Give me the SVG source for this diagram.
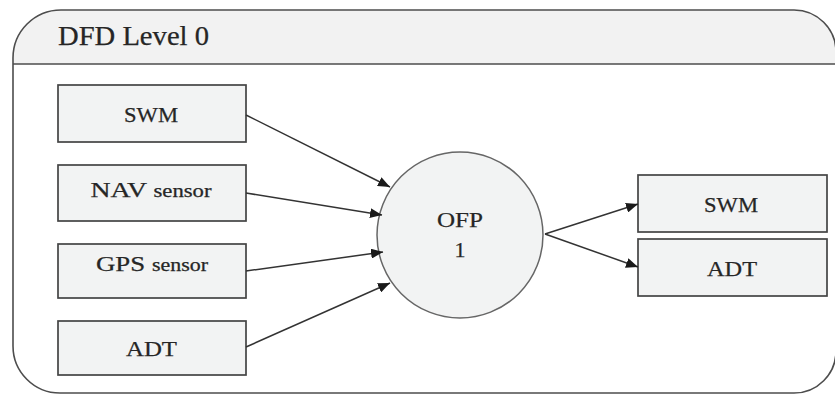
<svg xmlns="http://www.w3.org/2000/svg" width="835" height="395" viewBox="0 0 835 395">
  <style>
    .frame { fill: none; stroke: #4d4d4d; stroke-width: 1.6; }
    .header { fill: #f2f2f2; stroke: none; }
    .rule { stroke: #4d4d4d; stroke-width: 1.6; }
    .box { fill: #f2f3f3; stroke: #444444; stroke-width: 1.7; }
    .proc { fill: #f2f3f3; stroke: #666666; stroke-width: 1.5; }
    .lbl { font-family: "Liberation Serif", "DejaVu Serif", serif; font-size: 22px; fill: #262626; text-anchor: middle; stroke: #262626; stroke-width: 0.25; }
    .small { font-size: 18px; }
    .title { font-family: "Liberation Serif", "DejaVu Serif", serif; font-size: 27px; fill: #262626; stroke: #262626; stroke-width: 0.25; }
    .flow { stroke: #333333; stroke-width: 1.5; fill: none; marker-end: url(#arrow); }
  </style>
  <defs>
    <marker id="arrow" markerUnits="userSpaceOnUse" markerWidth="13" markerHeight="10" refX="12" refY="5" orient="auto">
      <path d="M0,0 L12,5 L0,10 Z" fill="#1a1a1a"/>
    </marker>
  </defs>

  <!-- Level 0 frame with title band -->
  <g id="frame">
    <path class="header" d="M13,64 V58 A48,48 0 0 1 61,10 H794 A42,42 0 0 1 836,52 V64 Z"/>
    <path class="frame" d="M61,10 H794 A42,42 0 0 1 836,52 V351 A42,42 0 0 1 794,393 H60 A47,47 0 0 1 13,346 V58 A48,48 0 0 1 61,10 Z"/>
    <line class="rule" x1="13" y1="64" x2="836" y2="64"/>
    <text class="title" x="58" y="45" textLength="151" lengthAdjust="spacingAndGlyphs">DFD Level 0</text>
  </g>

  <!-- External entities, left -->
  <g id="swm-in">
    <rect class="box" x="58" y="85" width="188" height="57"/>
    <text class="lbl" x="151" y="122" textLength="54" lengthAdjust="spacingAndGlyphs">SWM</text>
  </g>
  <g id="nav-sensor">
    <rect class="box" x="58" y="165" width="188" height="56"/>
    <text class="lbl" x="151" y="197" textLength="121" lengthAdjust="spacingAndGlyphs">NAV <tspan class="small">sensor</tspan></text>
  </g>
  <g id="gps-sensor">
    <rect class="box" x="58" y="244" width="188" height="54"/>
    <text class="lbl" x="152" y="271" textLength="112" lengthAdjust="spacingAndGlyphs">GPS <tspan class="small">sensor</tspan></text>
  </g>
  <g id="adt-in">
    <rect class="box" x="58" y="321" width="188" height="54"/>
    <text class="lbl" x="151.5" y="356" textLength="51" lengthAdjust="spacingAndGlyphs">ADT</text>
  </g>

  <!-- Process -->
  <g id="ofp">
    <circle class="proc" cx="460" cy="235" r="83"/>
    <text class="lbl" x="460" y="227" textLength="46" lengthAdjust="spacingAndGlyphs">OFP</text>
    <text class="lbl" x="460" y="257">1</text>
  </g>

  <!-- External entities, right -->
  <g id="swm-out">
    <rect class="box" x="638" y="175" width="189" height="57"/>
    <text class="lbl" x="731" y="212" textLength="54" lengthAdjust="spacingAndGlyphs">SWM</text>
  </g>
  <g id="adt-out">
    <rect class="box" x="638" y="239" width="189" height="57"/>
    <text class="lbl" x="732" y="276" textLength="50" lengthAdjust="spacingAndGlyphs">ADT</text>
  </g>

  <!-- Data flows -->
  <g id="connectors">
    <line class="flow" x1="246" y1="115" x2="390" y2="187"/>
    <line class="flow" x1="246" y1="193" x2="382" y2="215"/>
    <line class="flow" x1="246" y1="271" x2="383" y2="252"/>
    <line class="flow" x1="246" y1="347" x2="390" y2="283"/>
    <line class="flow" x1="545" y1="234" x2="638" y2="204"/>
    <line class="flow" x1="545" y1="234" x2="638" y2="267"/>
  </g>
</svg>
